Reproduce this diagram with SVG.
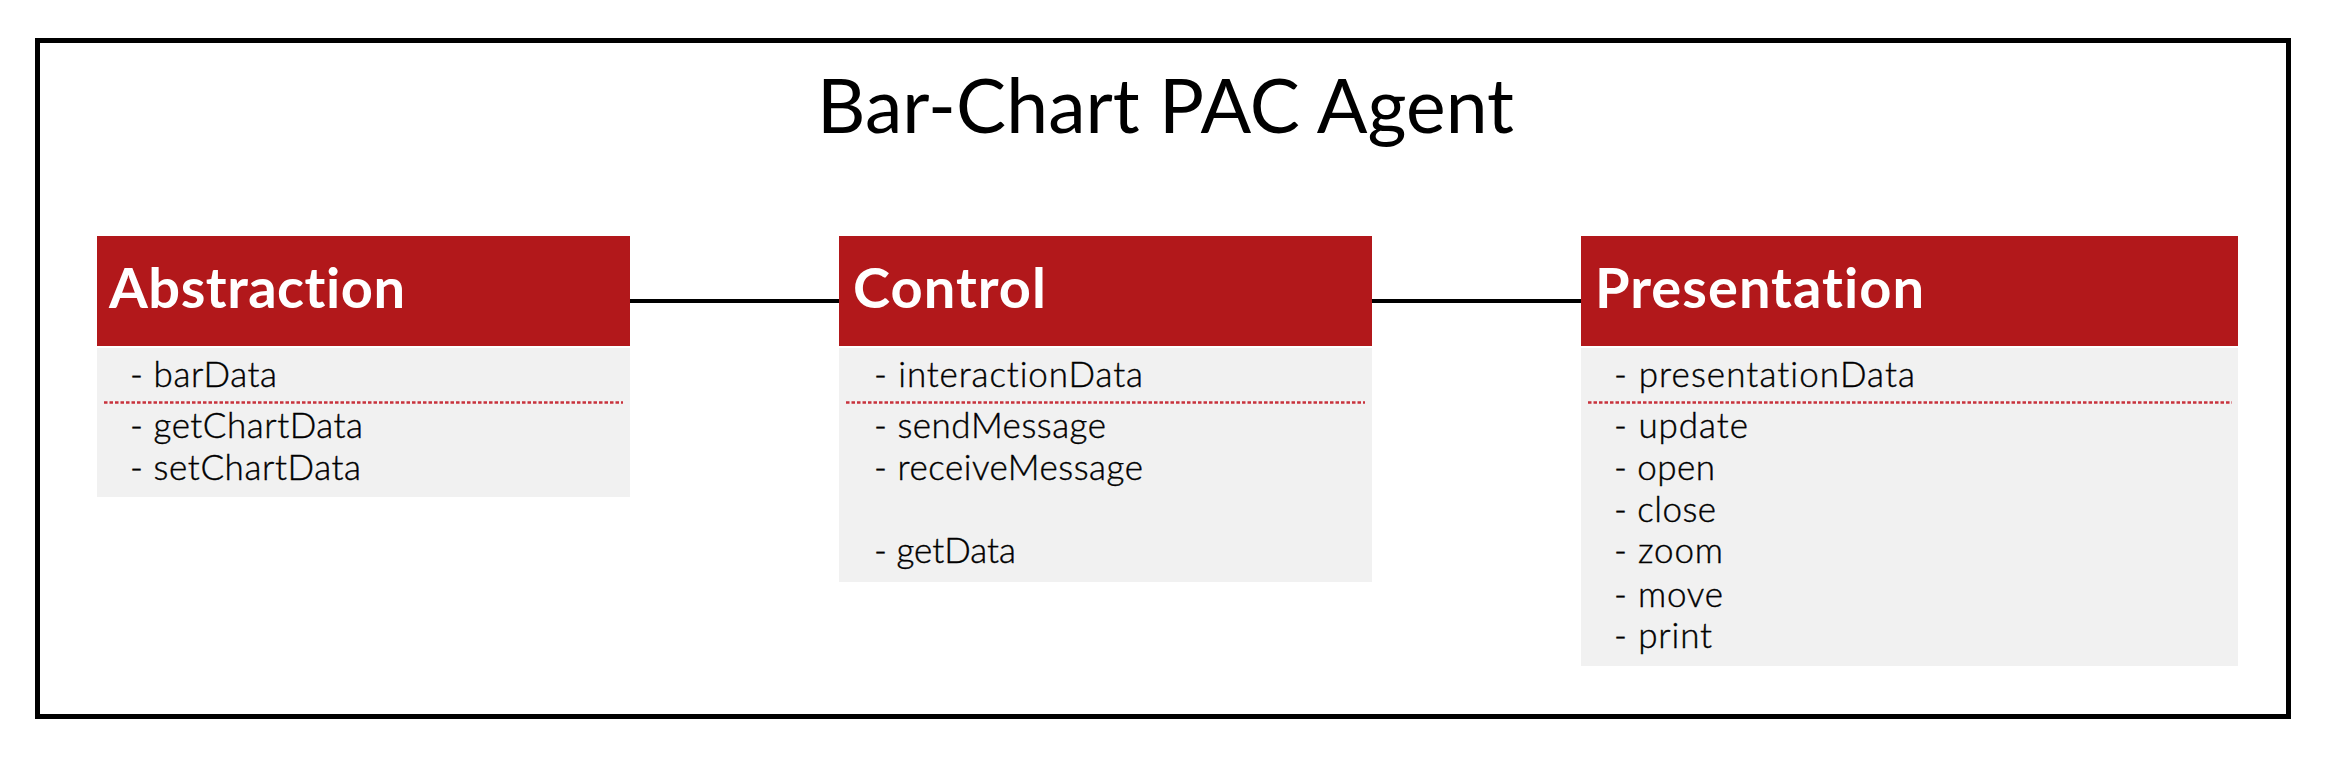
<svg xmlns="http://www.w3.org/2000/svg" width="2338" height="765" viewBox="0 0 2338 765">
  <style>
    text { font-variant-ligatures: none; font-feature-settings: "liga" 0, "clig" 0; }
    .frame { fill: #ffffff; stroke: #000000; stroke-width: 5; }
    .head { fill: #B2181B; }
    .body { fill: #F1F1F1; }
    .sep { stroke: #C8323C; stroke-width: 2.5; stroke-dasharray: 3.5 2; fill: none; }
    .conn { stroke: #000000; stroke-width: 4; fill: none; }
    .title { font-family: Lato, "Liberation Sans", sans-serif; font-size: 75px; fill: #000000; }
    .hname { font-family: Lato, "Liberation Sans", sans-serif; font-weight: 700; font-size: 56px; fill: #ffffff; }
    .item { font-family: Lato, "Liberation Sans", sans-serif; font-weight: 300; font-size: 35px; fill: #000000; stroke: #000000; stroke-width: 0.4; }
  </style>
  <rect x="0" y="0" width="2338" height="765" fill="#ffffff"/>
  <rect class="frame" x="37.5" y="40.5" width="2251" height="676"/>
  <text class="title" x="817" y="133" textLength="697">Bar-Chart PAC Agent</text>

  <g id="connectors">
    <line class="conn" x1="630" y1="301" x2="839" y2="301"/>
    <line class="conn" x1="1372" y1="301" x2="1581" y2="301"/>
  </g>

  <g id="abstraction">
    <rect class="head" x="97" y="236" width="533" height="110"/>
    <rect class="body" x="97" y="348" width="533" height="149"/>
    <text class="hname" x="109" y="308" textLength="296">Abstraction</text>
    <text class="item" x="130" y="387" textLength="147">- barData</text>
    <line class="sep" x1="104" y1="402.5" x2="623" y2="402.5"/>
    <text class="item" x="130" y="438" textLength="233">- getChartData</text>
    <text class="item" x="130" y="480" textLength="231">- setChartData</text>
  </g>

  <g id="control">
    <rect class="head" x="839" y="236" width="533" height="110"/>
    <rect class="body" x="839" y="348" width="533" height="234"/>
    <text class="hname" x="853" y="308" textLength="193">Control</text>
    <text class="item" x="874" y="387" textLength="269">- interactionData</text>
    <line class="sep" x1="846" y1="402.5" x2="1365" y2="402.5"/>
    <text class="item" x="874" y="438" textLength="232">- sendMessage</text>
    <text class="item" x="874" y="480" textLength="269">- receiveMessage</text>
    <text class="item" x="874" y="563" textLength="142">- getData</text>
  </g>

  <g id="presentation">
    <rect class="head" x="1581" y="236" width="657" height="110"/>
    <rect class="body" x="1581" y="348" width="657" height="318"/>
    <text class="hname" x="1595" y="308" textLength="329">Presentation</text>
    <text class="item" x="1614" y="387" textLength="301">- presentationData</text>
    <line class="sep" x1="1588" y1="402.5" x2="2232" y2="402.5"/>
    <text class="item" x="1614" y="438" textLength="134">- update</text>
    <text class="item" x="1614" y="480" textLength="101">- open</text>
    <text class="item" x="1614" y="522" textLength="102">- close</text>
    <text class="item" x="1614" y="563" textLength="109">- zoom</text>
    <text class="item" x="1614" y="607" textLength="109">- move</text>
    <text class="item" x="1614" y="648" textLength="98">- print</text>
  </g>
</svg>
